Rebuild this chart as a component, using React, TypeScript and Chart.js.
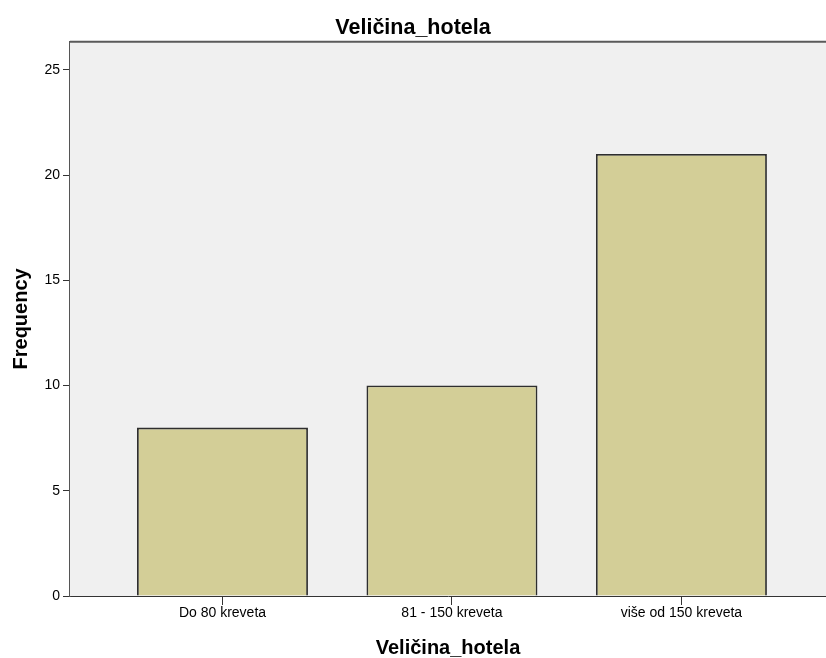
import React, { useEffect, useRef } from "react";
import { Chart, registerables } from "chart.js";

Chart.register(...registerables);

const chartTitle = "Veličina_hotela";
const categories = ["Do 80 kreveta", "81 - 150 kreveta", "više od 150 kreveta"];
const frequencies = [8, 10, 21];
const yTicks = [0, 5, 10, 15, 20, 25];
const xTitle = "Veličina_hotela";
const yTitle = "Frequency";

const FONT = "'Liberation Sans', Arial, sans-serif";

const plotFrame = {
  id: "plotFrame",
  beforeDatasetsDraw(chart: any) {
    const { ctx, chartArea } = chart;
    ctx.save();
    ctx.fillStyle = "#F0F0F0";
    ctx.fillRect(chartArea.left, chartArea.top, chartArea.right - chartArea.left, chartArea.bottom - chartArea.top);
    ctx.strokeStyle = "#5a5a5a";
    ctx.lineWidth = 2;
    ctx.beginPath();
    ctx.moveTo(chartArea.left, chartArea.top);
    ctx.lineTo(chartArea.right, chartArea.top);
    ctx.stroke();
    ctx.restore();
  },
};

export default function App() {
  const ref = useRef<HTMLCanvasElement | null>(null);

  useEffect(() => {
    if (!ref.current) return;
    const chart = new Chart(ref.current, {
      type: "bar",
      data: {
        datasets: [
          {
            data: frequencies.map((v, i) => ({ x: i + 1, y: v })),
            backgroundColor: "#D3CE97",
            borderColor: "#2e2e2e",
            borderWidth: 1.8,
            barPercentage: 0.745,
            categoryPercentage: 1,
          },
        ],
      },
      plugins: [plotFrame],
      options: {
        animation: false,
        responsive: false,
        devicePixelRatio: 1,
        layout: { padding: { left: 0, right: 0, top: 0, bottom: 0 } },
        plugins: {
          legend: { display: false },
          tooltip: { enabled: false },
          title: {
            display: true,
            text: chartTitle,
            color: "#000",
            font: { family: FONT, size: 21.5, weight: "bold" },
            padding: { top: 15, bottom: 1 },
          },
        },
        scales: {
          x: {
            type: "linear",
            offset: false,
            min: 0.3355,
            max: 3.63,
            afterBuildTicks: (scale: any) => {
              scale.ticks = categories.map((_, i) => ({ value: i + 1 }));
            },
            afterFit: (scale: any) => {
              scale.height = 62;
            },
            grid: {
              offset: false,
              drawOnChartArea: false,
              drawTicks: true,
              tickLength: 9,
              color: "#333",
            },
            border: { display: true, color: "#333", width: 1 },
            ticks: {
              autoSkip: false,
              maxRotation: 0,
              padding: 0,
              color: "#000",
              font: { family: FONT, size: 14 },
              callback: (v: any) => categories[Math.round(Number(v)) - 1] ?? "",
            },
            title: {
              display: true,
              text: xTitle,
              color: "#000",
              font: { family: FONT, size: 20, weight: "bold" },
              padding: { top: 0, bottom: -2 },
            },
          },
          y: {
            type: "linear",
            min: 0,
            max: 26.33,
            afterBuildTicks: (scale: any) => {
              scale.ticks = yTicks.map((v) => ({ value: v }));
            },
            afterFit: (scale: any) => {
              scale.width = 70;
            },
            grid: {
              drawOnChartArea: false,
              drawTicks: true,
              tickLength: 7,
              color: "#333",
            },
            border: { display: true, color: "#555", width: 1.5 },
            ticks: {
              padding: 3,
              color: "#000",
              font: { family: FONT, size: 14 },
            },
            title: {
              display: true,
              text: yTitle,
              color: "#000",
              font: { family: FONT, size: 20, weight: "bold" },
              padding: { top: 9, bottom: 0 },
            },
          },
        },
      },
    } as any);
    return () => chart.destroy();
  }, []);

  return (
    <div style={{ position: "absolute", left: 0, top: 0, width: 826, height: 658, background: "#fff" }}>
      <canvas ref={ref} width={826} height={658} style={{ width: 826, height: 658, display: "block" }} />
    </div>
  );
}
